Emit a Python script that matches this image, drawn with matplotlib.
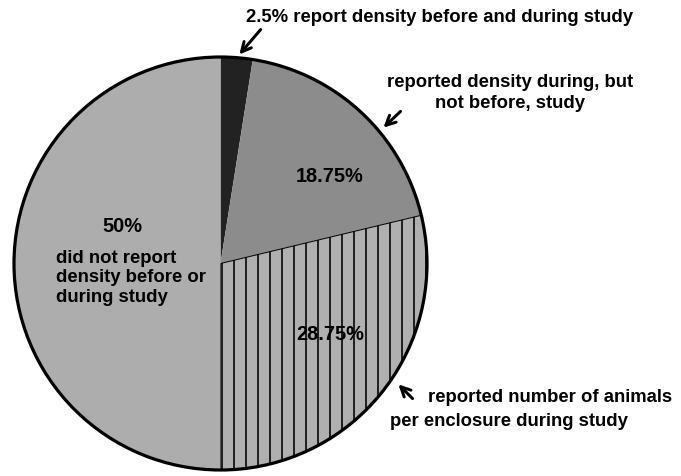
import matplotlib.pyplot as plt
from matplotlib.patches import Circle

# datos del grafico
shares = [2.5, 18.75, 28.75, 50]
colors = ['#222222', '#8c8c8c', '#b0b0b0', '#adadad']
hatches = ['', '', '|', '']

plt.rcParams['font.family'] = ['Liberation Sans', 'DejaVu Sans']
plt.rcParams['font.weight'] = 'bold'
plt.rcParams['hatch.linewidth'] = 1.6
plt.rcParams['hatch.color'] = 'black'

W, H = 681, 476
fig = plt.figure(figsize=(W / 72, H / 72), dpi=72)
ax = fig.add_axes([0, 0, 1, 1])

cx, cy, r = 220.5, H - 263.5, 206.5
wedges, _ = ax.pie(shares, colors=colors, startangle=90, counterclock=False,
                   center=(cx, cy), radius=r,
                   wedgeprops=dict(linewidth=0, edgecolor='none'))
for w, h in zip(wedges, hatches):
    if h:
        w.set_hatch(h)
        w.set_edgecolor('black')
        w.set_linewidth(1.0)
ax.add_patch(Circle((cx, cy), r, fill=False, edgecolor='black', linewidth=3.2, zorder=5))

ax.set_xlim(0, W)
ax.set_ylim(0, H)
ax.set_aspect('equal')
ax.axis('off')

fs = 18.5
fp = 20
# etiquetas dentro del pastel
ax.text(330, H - 177, '18.75%', ha='center', va='center', fontsize=fp)
ax.text(330, H - 335, '28.75%', ha='center', va='center', fontsize=fp)
ax.text(122, H - 226, '50%', ha='center', va='center', fontsize=fp)
ax.text(56, H - 278, 'did not report\ndensity before or\nduring study',
        ha='left', va='center', fontsize=fs, linespacing=1.2)

# etiquetas externas con flechas
ax.text(246, H - 18, '2.5% report density before and during study',
        ha='left', va='center', fontsize=fs)
ax.text(510, H - 93, 'reported density during, but\nnot before, study',
        ha='center', va='center', fontsize=fs, linespacing=1.3)
ax.text(428, H - 398, 'reported number of animals',
        ha='left', va='center', fontsize=fs)
ax.text(390, H - 421, 'per enclosure during study',
        ha='left', va='center', fontsize=fs)

arrow = dict(arrowstyle='->', lw=3, color='black', mutation_scale=24)
ax.annotate('', xy=(238, H - 56), xytext=(262, H - 28), arrowprops=arrow)
ax.annotate('', xy=(382, H - 129), xytext=(402, H - 110), arrowprops=arrow)
ax.annotate('', xy=(397, H - 383), xytext=(414, H - 400), arrowprops=arrow)

plt.savefig('out.png', dpi=72)
